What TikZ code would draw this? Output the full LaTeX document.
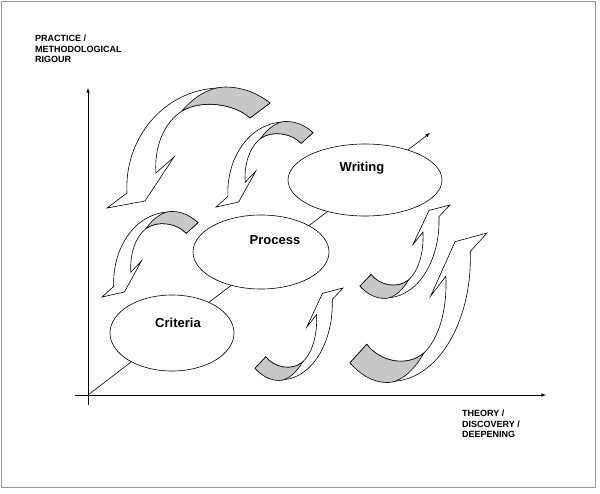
\documentclass[tikz,border=0pt]{standalone}
\usepackage{fontspec}
\setmainfont{Liberation Sans}
\usetikzlibrary{shapes.geometric}
\newcommand{\carrowshape}{%
  \filldraw[fill=white,line width=0.6pt] (20,108) .. controls (17,55) and (55,6) .. (110,3)
    .. controls (135,2) and (153,10) .. (163,18) -- (143,33)
    .. controls (128,19) and (95,14) .. (75,26)
    .. controls (58,37) and (47,60) .. (49,88) -- (67,72) -- (38,116) -- (0,123) -- cycle;
  \filldraw[fill=black!22,line width=0.6pt] (75,26) .. controls (88,10) and (105,2) .. (118,2)
    .. controls (138,2) and (153,10) .. (163,18) -- (143,33)
    .. controls (128,19) and (95,14) .. (75,26) -- cycle;}
\begin{document}
\begin{tikzpicture}[x=1pt,y=-1pt,
  lbl/.style={font=\bfseries\fontsize{9}{10.5}\selectfont,align=left,anchor=north west,inner sep=0},
  ell/.style={draw,fill=white,ellipse,line width=0.6pt},
  etext/.style={font=\bfseries\fontsize{13}{15}\selectfont}]
\useasboundingbox (0,0) rectangle (600,493);
\draw[black!40] (1,1) rectangle (595,487);
\coordinate (o) at (88,395);
\coordinate (ytop) at (88,88);
\coordinate (xend) at (546,395);
\coordinate (dend) at (430,133);
\draw[-latex,line width=0.6pt] (88,405) -- (ytop);
\draw[-latex,line width=0.6pt] (75,395) -- (xend);
\draw[-latex,line width=0.6pt] (o) -- (dend);
\node[ell,minimum width=124pt,minimum height=76pt] (crit) at (172,333) {};
\node[ell,minimum width=136pt,minimum height=74pt] (proc) at (261,252) {};
\node[ell,minimum width=154pt,minimum height=72pt] (writ) at (365,180) {};
\node[etext] (tcrit) at (178,323) {Criteria};
\node[etext] (tproc) at (275,240) {Process};
\node[etext] (twrit) at (362,168) {Writing};
\node[lbl] (ylab) at (35,35) {PRACTICE /\\METHODOLOGICAL\\RIGOUR};
\node[lbl] (xlab) at (462,410) {THEORY /\\DISCOVERY /\\DEEPENING};
% top arrows
\begin{scope}[shift={(107,85)}] \carrowshape \end{scope}
\begin{scope}[shift={(216,120)},xscale=97/163,yscale=87/123] \carrowshape \end{scope}
\begin{scope}[shift={(102,210)},xscale=96/163,yscale=87/123] \carrowshape \end{scope}
% bottom arrows (rotated)
\begin{scope}[shift={(343,382)},xscale=-88/163,yscale=-94/123] \carrowshape \end{scope}
\begin{scope}[shift={(487,385)},xscale=-137/163,yscale=-152/123] \carrowshape \end{scope}
\begin{scope}[shift={(450,300)},xscale=-90/163,yscale=-95/123] \carrowshape \end{scope}
\end{tikzpicture}
\end{document}
